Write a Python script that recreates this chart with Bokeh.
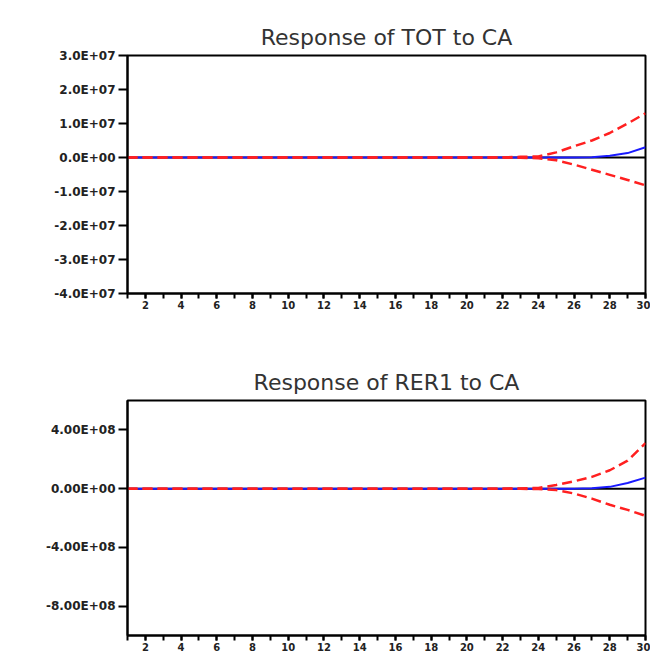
from bokeh.plotting import figure
from bokeh.layouts import column
from bokeh.models import FixedTicker, Span, Range1d
from bokeh.embed import file_html
from bokeh.resources import INLINE

periods = list(range(1, 31))

# Response of TOT to CA
tot_resp = [0]*26 + [0.01e7, 0.05e7, 0.13e7, 0.30e7]
tot_upper = [0]*22 + [0.02e7, 0.03e7, 0.15e7, 0.33e7, 0.50e7, 0.72e7, 1.00e7, 1.30e7]
tot_lower = [0]*22 + [-0.01e7, -0.02e7, -0.08e7, -0.21e7, -0.36e7, -0.51e7, -0.66e7, -0.82e7]
tot_yticks = [3e7, 2e7, 1e7, 0, -1e7, -2e7, -3e7, -4e7]
tot_ylabels = ["3.0E+07", "2.0E+07", "1.0E+07", "0.0E+00", "-1.0E+07", "-2.0E+07", "-3.0E+07", "-4.0E+07"]

# Response of RER1 to CA
rer_resp = [0]*26 + [0.03e8, 0.12e8, 0.38e8, 0.75e8]
rer_upper = [0]*22 + [0.01e8, 0.05e8, 0.25e8, 0.50e8, 0.80e8, 1.25e8, 1.90e8, 3.10e8]
rer_lower = [0]*22 + [-0.01e8, -0.03e8, -0.10e8, -0.33e8, -0.68e8, -1.10e8, -1.45e8, -1.85e8]
rer_yticks = [4e8, 0, -4e8, -8e8]
rer_ylabels = ["4.00E+08", "0.00E+00", "-4.00E+08", "-8.00E+08"]

x_major = list(range(2, 31, 2))
x_minor = list(range(1, 31))


def make(title, resp, upper, lower, yticks, ylabels, yr, height, top, bottom):
    p = figure(width=650, height=height, output_backend="svg", toolbar_location=None,
               x_range=Range1d(1, 30), y_range=Range1d(*yr),
               min_border_left=127, min_border_right=5,
               min_border_top=top, min_border_bottom=bottom)
    p.title.text = title
    p.title.align = "center"
    p.title.text_font = "DejaVu Sans"
    p.title.text_font_size = "22px"
    p.title.text_font_style = "normal"
    p.title.text_color = "#333333"
    p.title.standoff = 11
    p.grid.visible = False
    p.outline_line_color = "black"
    p.outline_line_width = 2
    p.background_fill_color = "white"
    p.border_fill_color = "white"

    p.add_layout(Span(location=0, dimension="width", line_color="black",
                      line_width=2, level="underlay"))
    p.line(periods, resp, line_color="#1a1aff", line_width=2)
    p.line(periods, upper, line_color="#ff2020", line_width=2.5, line_dash="10 5")
    p.line(periods, lower, line_color="#ff2020", line_width=2.5, line_dash="10 5")

    p.xaxis.ticker = FixedTicker(ticks=x_major, minor_ticks=x_minor)
    p.yaxis.ticker = FixedTicker(ticks=yticks)
    overrides = {float(t): l for t, l in zip(yticks, ylabels)}
    overrides.update({int(t): l for t, l in zip(yticks, ylabels)})
    p.yaxis.major_label_overrides = overrides
    for ax in (p.xaxis, p.yaxis):
        ax.axis_line_color = "black"
        ax.axis_line_width = 2
        ax.major_tick_line_color = "black"
        ax.major_tick_line_width = 2
        ax.major_tick_in = 0
        ax.major_label_text_font = "DejaVu Sans"
        ax.major_label_text_font_style = "bold"
        ax.major_label_text_color = "#222222"
    p.yaxis.major_tick_out = 9
    p.yaxis.major_label_standoff = 3
    p.yaxis.major_label_text_font_size = "12px"
    p.xaxis.major_tick_out = 5
    p.xaxis.major_label_text_font_size = "10px"
    p.xaxis.minor_tick_line_color = "black"
    p.xaxis.minor_tick_line_width = 2
    p.xaxis.minor_tick_out = 5
    p.xaxis.minor_tick_in = 0
    p.xaxis.major_label_standoff = 2
    p.yaxis.minor_tick_line_color = None
    return p


p1 = make("Response of TOT to CA", tot_resp, tot_upper, tot_lower,
          tot_yticks, tot_ylabels, (-4e7, 3e7), 323, 55, 30)
p2 = make("Response of RER1 to CA", rer_resp, rer_upper, rer_lower,
          rer_yticks, rer_ylabels, (-1e9, 6e8), 330, 77, 16)

layout = column(p1, p2, spacing=0)
open("out.html", "w").write(file_html(layout, INLINE))
